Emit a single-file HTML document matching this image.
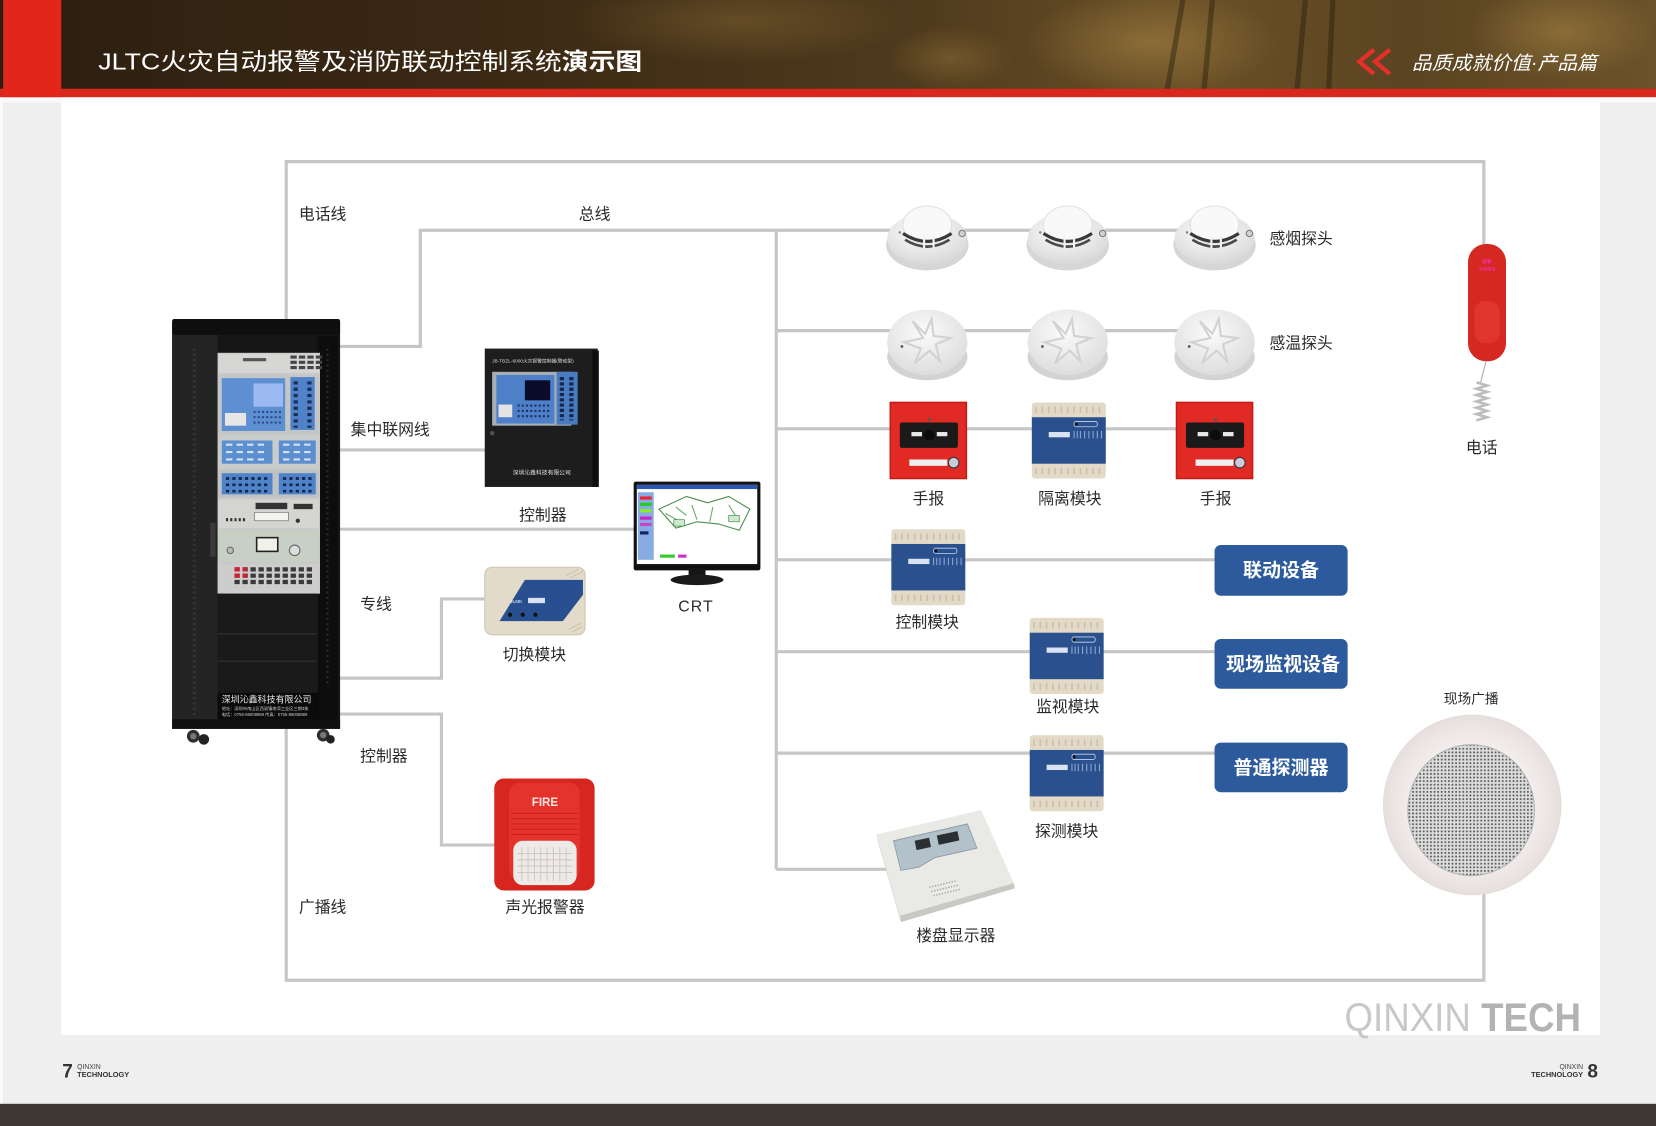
<!DOCTYPE html>
<html><head><meta charset="utf-8">
<style>
html,body{margin:0;padding:0;background:#f0f0f0;overflow:hidden;}
svg{display:block;}
text{font-family:"Liberation Sans","Noto Sans CJK SC",sans-serif;}
.lb{font-size:15px;fill:#2a2a2a;}
.bt{font-size:18px;fill:#fff;font-weight:bold;}
.ln{stroke:#c6c6c6;stroke-width:3;fill:none;}
</style></head>
<body>
<svg width="1656" height="1126" viewBox="0 0 1568 1066" preserveAspectRatio="none" xmlns="http://www.w3.org/2000/svg">
<defs>
  <linearGradient id="hdr" x1="0" y1="0" x2="1" y2="0">
    <stop offset="0" stop-color="#2c1f10"/>
    <stop offset="0.3" stop-color="#3b2914"/>
    <stop offset="0.55" stop-color="#4e3a1c"/>
    <stop offset="0.72" stop-color="#6a5027"/>
    <stop offset="0.85" stop-color="#5a4421"/>
    <stop offset="1" stop-color="#6b5229"/>
  </linearGradient>
  <radialGradient id="hdrspot" cx="0.5" cy="0.5" r="0.5">
    <stop offset="0" stop-color="#9a7a3e" stop-opacity="0.7"/>
    <stop offset="1" stop-color="#9a7a3e" stop-opacity="0"/>
  </radialGradient>
  <radialGradient id="smk" cx="0.45" cy="0.35" r="0.65">
    <stop offset="0" stop-color="#ffffff"/>
    <stop offset="1" stop-color="#d9d9d9"/>
  </radialGradient>
  <radialGradient id="heat" cx="0.45" cy="0.35" r="0.65">
    <stop offset="0" stop-color="#fbfbfb"/>
    <stop offset="1" stop-color="#dddddd"/>
  </radialGradient>
  <radialGradient id="spk" cx="0.5" cy="0.5" r="0.5">
    <stop offset="0.6" stop-color="#f6f2f1"/>
    <stop offset="1" stop-color="#e6dfdd"/>
  </radialGradient>
  <pattern id="mesh" width="3.4" height="3.4" patternUnits="userSpaceOnUse">
    <rect width="3.4" height="3.4" fill="#dcdcdc"/>
    <circle cx="1.7" cy="1.7" r="0.95" fill="#5e5e5e"/>
  </pattern>
  <g id="smoke">
    <ellipse cx="0" cy="8" rx="39" ry="24" fill="#d6d6d6"/>
    <ellipse cx="0" cy="2" rx="38" ry="24" fill="url(#smk)"/>
    <ellipse cx="0" cy="-11" rx="23" ry="18" fill="#f9f9f9" stroke="#e0e0e0"/>
    <path d="M-23,-3 Q0,12 23,-3" stroke="#3a3a3a" stroke-width="3" fill="none"/>
    <path d="M-21,3 Q0,16 21,3" stroke="#4a4a4a" stroke-width="2.5" fill="none"/>
    <path d="M-3,-1 V12 M6,-1 V11" stroke="#f3f3f3" stroke-width="2"/>
    <circle cx="33" cy="-3" r="3" fill="#d2d2d2" stroke="#7a7a7a" stroke-width="1"/>
    <circle cx="-26" cy="-4" r="1.2" fill="#888"/>
  </g>
  <g id="heatd">
    <ellipse cx="0" cy="12" rx="38" ry="22" fill="#d3d3d3"/>
    <ellipse cx="0" cy="-2" rx="38" ry="31" fill="url(#heat)"/>
    <path d="M-14,-22 L-4,-6 L-22,-2 L-6,4 L-12,18 L2,6 L12,16 L8,0 L22,-6 L6,-8 L4,-24 L-2,-10 Z" fill="none" stroke="#d2d2d2" stroke-width="2"/>
    <circle cx="-24" cy="2" r="1.3" fill="#555"/>
  </g>
  <g id="manual">
    <rect x="0" y="0" width="72" height="72" fill="#e12a24"/>
    <rect x="0" y="0" width="72" height="72" fill="none" stroke="#c01e19" stroke-width="1.5"/>
    <rect x="9" y="19" width="55" height="24" rx="2" fill="#1a1a1a"/>
    <rect x="20" y="28" width="10" height="4" fill="#e8e8e8"/>
    <rect x="44" y="28" width="10" height="4" fill="#e8e8e8"/>
    <circle cx="37" cy="31" r="5" fill="#0c0c0c"/>
    <circle cx="37" cy="16" r="1.5" fill="#555"/>
    <rect x="18" y="54" width="36" height="6" fill="#f0f0f0"/>
    <circle cx="60" cy="57" r="5" fill="#c9ccd8" stroke="#334" stroke-width="1"/>
  </g>
  <g id="module">
    <rect x="0" y="0" width="70" height="72" rx="3" fill="#e2d9c7"/>
    <path d="M4,4 V10 M10,4 V10 M16,4 V10 M22,4 V10 M28,4 V10 M34,4 V10 M40,4 V10 M46,4 V10 M52,4 V10 M58,4 V10 M64,4 V10 M4,62 V68 M10,62 V68 M16,62 V68 M22,62 V68 M28,62 V68 M34,62 V68 M40,62 V68 M46,62 V68 M52,62 V68 M58,62 V68 M64,62 V68" stroke="#cbbfa8" stroke-width="1.5"/>
    <rect x="0" y="14" width="70" height="44" fill="#2a508e"/>
    <rect x="16" y="28" width="20" height="5" fill="#d9e3f2"/>
    <path d="M40,27 V34 M43,27 V34 M46,27 V34 M50,27 V34 M54,27 V34 M58,27 V34 M62,27 V34 M66,27 V34" stroke="#8fa8d0" stroke-width="1"/>
    <rect x="40" y="18" width="22" height="5" rx="2" fill="none" stroke="#c8d4e8" stroke-width="0.8"/>
    <circle cx="42" cy="20.5" r="1.5" fill="#111"/>
  </g>
</defs>

<!-- page background -->
<rect x="0" y="0" width="1568" height="1066" fill="#efefef"/>
<rect x="0" y="0" width="3" height="1066" fill="#fafafa"/>
<rect x="58" y="95" width="1457" height="885" fill="#ffffff"/>
<rect x="0" y="92" width="1568" height="5" fill="#fbfbfb"/>

<!-- header -->
<rect x="0" y="0" width="1568" height="86" fill="url(#hdr)"/>
<ellipse cx="1090" cy="40" rx="120" ry="50" fill="url(#hdrspot)"/>
<ellipse cx="1480" cy="30" rx="90" ry="45" fill="url(#hdrspot)"/>
<ellipse cx="700" cy="20" rx="160" ry="40" fill="url(#hdrspot)" opacity="0.5"/>
<ellipse cx="900" cy="55" rx="60" ry="30" fill="url(#hdrspot)" opacity="0.6"/>
<path d="M1120,0 L1105,86 M1148,0 L1140,86 M1236,0 L1228,86 M1262,0 L1258,86" stroke="#2a1e0e" stroke-width="5" opacity="0.45"/>
<rect x="0" y="84" width="1568" height="8" fill="#d8281e"/>
<rect x="3" y="0" width="55" height="92" fill="#e2261c"/>
<text x="93" y="66" font-size="22" fill="#ffffff" textLength="515" lengthAdjust="spacingAndGlyphs">JLTC火灾自动报警及消防联动控制系统<tspan font-weight="bold">演示图</tspan></text>
<polyline points="1301,47 1287,58.5 1301,70" fill="none" stroke="#e5302a" stroke-width="4"/>
<polyline points="1316,47 1302,58.5 1316,70" fill="none" stroke="#e5302a" stroke-width="4"/>
<text x="1337" y="66" font-size="18" fill="#ffffff" font-style="italic" textLength="175" lengthAdjust="spacingAndGlyphs">品质成就价值·产品篇</text>

<!-- connector lines -->
<path class="ln" d="M271,690 V928 H1405 V845"/>
<path class="ln" d="M271,305 V153 H1405 V235"/>
<path class="ln" d="M322,328 H398 V218 H1120"/>
<path class="ln" d="M735,218 V823"/>
<path class="ln" d="M735,313 H1120"/>
<path class="ln" d="M735,406 H1150"/>
<path class="ln" d="M735,530 H1150"/>
<path class="ln" d="M735,617 H1150"/>
<path class="ln" d="M735,713 H1150"/>
<path class="ln" d="M735,823 H850"/>
<path class="ln" d="M322,426 H460"/>
<path class="ln" d="M322,501 H602"/>
<path class="ln" d="M322,642 H418 V567 H462"/>
<path class="ln" d="M322,676 H418 V800 H470"/>

<!-- cabinet -->
<g>
  <rect x="163" y="305" width="159" height="385" fill="#161616"/>
  <rect x="163" y="316" width="43" height="372" fill="#242424"/>
  <path d="M184,330 V680" stroke="#333" stroke-width="3" stroke-dasharray="2 3"/>
  <rect x="163" y="302" width="159" height="15" rx="2" fill="#0f0f0f"/>
  <rect x="199" y="495" width="5" height="32" fill="#3a3a3a"/>
  <rect x="300" y="318" width="20" height="370" fill="#0d0d0d"/>
  <path d="M310,330 V650" stroke="#2a2a2a" stroke-width="2" stroke-dasharray="2 3"/>
  <rect x="206" y="334" width="97" height="228" fill="#c8cac8"/>
  <rect x="207" y="335" width="95" height="18" fill="#d6d7d4"/>
  <rect x="230" y="339" width="22" height="3" fill="#555"/>
  <path d="M275,338 h6 m2,0 h6 m2,0 h6 m2,0 h6 M275,343 h6 m2,0 h6 m2,0 h6 m2,0 h6 M275,348 h6 m2,0 h6 m2,0 h6 m2,0 h6" stroke="#444" stroke-width="3"/>
  <rect x="207" y="355" width="95" height="56" fill="#c2c6c7"/>
  <rect x="210" y="358" width="60" height="50" fill="#5d8fd2"/>
  <rect x="240" y="363" width="28" height="22" fill="#9bb9f2"/>
  <rect x="213" y="391" width="20" height="12" fill="#e6e6e6"/>
  <path d="M240,390 h28 M240,395 h28 M240,400 h28" stroke="#2d4f8a" stroke-width="2" stroke-dasharray="2 2"/>
  <rect x="275" y="357" width="23" height="50" fill="#4f82c8"/>
  <path d="M280,361 V405 M293,361 V405" stroke="#1d2e55" stroke-width="4" stroke-dasharray="3 3"/>
  <rect x="207" y="413" width="95" height="30" fill="#cacccc"/>
  <rect x="210" y="417" width="48" height="22" fill="#5c8fd0"/>
  <rect x="264" y="417" width="35" height="22" fill="#5c8fd0"/>
  <path d="M214,421 h40 M214,428 h40 M214,435 h40 M268,421 h28 M268,428 h28 M268,435 h28" stroke="#d6e2f5" stroke-width="2" stroke-dasharray="6 4"/>
  <rect x="207" y="445" width="95" height="26" fill="#bfc2c4"/>
  <rect x="210" y="448" width="48" height="20" fill="#4f83c9"/>
  <rect x="264" y="448" width="35" height="20" fill="#4f83c9"/>
  <path d="M214,453 h40 M214,459 h40 M214,465 h40 M268,453 h28 M268,459 h28 M268,465 h28" stroke="#15254a" stroke-width="2.5" stroke-dasharray="3 3"/>
  <rect x="207" y="473" width="95" height="27" fill="#d4d4d0"/>
  <rect x="242" y="476" width="30" height="6" fill="#333"/>
  <rect x="241" y="485" width="32" height="8" fill="#f3f3f0" stroke="#666" stroke-width="0.6"/>
  <path d="M214,492 h20" stroke="#333" stroke-width="3" stroke-dasharray="2 2"/>
  <rect x="278" y="477" width="18" height="5" fill="#333"/>
  <circle cx="282" cy="493" r="2" fill="#333"/>
  <rect x="207" y="502" width="95" height="30" fill="#c8cfc5"/>
  <rect x="243" y="509" width="20" height="13" fill="#f2f2ea" stroke="#222" stroke-width="1.5"/>
  <circle cx="279" cy="521" r="5" fill="#ddd" stroke="#666"/>
  <circle cx="218" cy="521" r="3" fill="#bbb" stroke="#666"/>
  <rect x="207" y="534" width="95" height="28" fill="#cccdcc"/>
  <path d="M222,539 h76 M222,545 h76 M222,551 h76" stroke="#3a3a3a" stroke-width="4" stroke-dasharray="5 2.6"/>
  <path d="M222,539 h12 M222,545 h12" stroke="#c23" stroke-width="4" stroke-dasharray="5 2.6"/>
  <rect x="206" y="562" width="95" height="94" fill="#1a1a1a"/>
  <path d="M206,600 H300 M206,626 H300" stroke="#2c2c2c" stroke-width="1.5"/>
  <rect x="206" y="656" width="95" height="25" fill="#0b0b0b"/>
  <text x="210" y="665" font-size="8.5" fill="#e8e8e8">深圳沁鑫科技有限公司</text>
  <text x="210" y="672" font-size="4" fill="#ccc">地址：深圳市南山区西丽镇南湾工业区三期3栋</text>
  <text x="210" y="678" font-size="4" fill="#ccc">电话：0755-86008888 传真：0755-86008889</text>
  <rect x="163" y="681" width="159" height="9" fill="#101010"/>
  <circle cx="183" cy="697" r="6" fill="#2e2e2e"/><circle cx="183" cy="697" r="3" fill="#777"/>
  <circle cx="193" cy="700" r="5" fill="#222"/>
  <circle cx="306" cy="696" r="6" fill="#2e2e2e"/><circle cx="306" cy="696" r="3" fill="#777"/>
  <circle cx="313" cy="700" r="4" fill="#222"/>
</g>

<!-- controller -->
<g>
  <rect x="459" y="330" width="107" height="131" fill="#1d1d1d"/>
  <rect x="561" y="332" width="6" height="129" fill="#0e0e0e"/>
  <text x="466" y="343" font-size="4.5" fill="#ddd">JB-TBZL-6000火灾报警控制器(联动型)</text>
  <rect x="466" y="352" width="75" height="51" fill="#a7afb6"/>
  <rect x="470" y="355" width="55" height="46" fill="#4d80c9"/>
  <rect x="497" y="360" width="24" height="19" fill="#0b0b2a"/>
  <rect x="472" y="383" width="13" height="12" fill="#e3e3e3"/>
  <path d="M490,384 h32 M490,389 h32 M490,394 h32" stroke="#1c3566" stroke-width="2" stroke-dasharray="2 2"/>
  <rect x="527" y="352" width="20" height="50" fill="#4a7bc0"/>
  <path d="M532,357 V398 M541,357 V398" stroke="#16264a" stroke-width="4" stroke-dasharray="3 2"/>
  <circle cx="466" cy="410" r="2" fill="#555"/>
  <text x="513" y="449" font-size="5.5" fill="#e6e6e6" text-anchor="middle">深圳沁鑫科技有限公司</text>
</g>

<!-- CRT -->
<g>
  <rect x="600" y="456" width="120" height="84" rx="2" fill="#121212"/>
  <rect x="603" y="459" width="114" height="75" fill="#ffffff"/>
  <rect x="603" y="459" width="114" height="4" fill="#2b58b0"/>
  <rect x="604" y="466" width="15" height="64" fill="#86ace3"/>
  <rect x="606" y="470" width="11" height="3" fill="#e23"/>
  <rect x="606" y="476" width="11" height="3" fill="#2c2"/>
  <rect x="606" y="482" width="11" height="3" fill="#8e2"/>
  <rect x="606" y="489" width="11" height="3" fill="#c2c"/>
  <rect x="606" y="495" width="11" height="3" fill="#c4c"/>
  <rect x="606" y="503" width="8" height="3" fill="#126"/>
  <path d="M624,482 L650,470 L670,476 L690,470 L710,482 L700,502 L680,496 L660,494 L640,500 Z" fill="none" stroke="#4b8b4b" stroke-width="1"/>
  <path d="M630,486 L648,496 M655,478 L660,492 M675,480 L672,494 M690,478 L700,494 M640,480 L650,488" stroke="#6a6" stroke-width="1"/>
  <path d="M638,492 h10 v6 h-10 z M690,488 h10 v6 h-10 z" fill="#cfe8cf" stroke="#383" stroke-width="0.6"/>
  <rect x="625" y="525" width="14" height="3" fill="#3c3"/>
  <rect x="642" y="525" width="8" height="3" fill="#c3c"/>
  <rect x="652" y="538" width="16" height="9" fill="#151515"/>
  <ellipse cx="660" cy="549" rx="25" ry="5" fill="#1a1a1a"/>
</g>

<!-- switch module -->
<g>
  <rect x="459" y="537" width="95" height="64" rx="7" fill="#e3dbc9" stroke="#cfc5b0" stroke-width="1"/>
  <polygon points="473,588 497,549 552,549 552,563 533,588" fill="#284f8f"/>
  <rect x="500" y="566" width="16" height="5" fill="#d9e3f2"/>
  <text x="483" y="571" font-size="4.5" fill="#fff">JLMK</text>
  <circle cx="483" cy="582" r="2" fill="#111"/><circle cx="495" cy="582" r="2" fill="#111"/><circle cx="507" cy="582" r="2" fill="#111"/>
  <path d="M536,545 l12,-6 M540,547 l12,-6 M538,596 l12,-6 M542,598 l10,-5" stroke="#cdbfa4" stroke-width="1"/>
</g>

<!-- sound & light alarm -->
<g>
  <rect x="468" y="737" width="95" height="106" rx="9" fill="#d72520"/>
  <rect x="482" y="741" width="67" height="92" rx="10" fill="#e4332b"/>
  <path d="M484,770 h63 M484,775 h63 M484,780 h63 M484,785 h63 M484,790 h63" stroke="#c9221d" stroke-width="1"/>
  <text x="516" y="763" font-size="11" font-weight="bold" fill="#f4e7e4" text-anchor="middle">FIRE</text>
  <rect x="486" y="796" width="60" height="42" rx="9" fill="#eeeae8"/>
  <path d="M494,802 V834 M500,802 V834 M506,802 V834 M512,802 V834 M518,802 V834 M524,802 V834 M530,802 V834 M536,802 V834 M490,808 h52 M490,814 h52 M490,820 h52 M490,826 h52" stroke="#cfc8c6" stroke-width="1"/>
</g>

<!-- smoke detectors -->
<use href="#smoke" x="878" y="224"/>
<use href="#smoke" x="1011" y="224"/>
<use href="#smoke" x="1150" y="224"/>
<!-- heat detectors -->
<use href="#heatd" x="878" y="326"/>
<use href="#heatd" x="1011" y="326"/>
<use href="#heatd" x="1150" y="326"/>
<!-- manual alarms & isolation -->
<use href="#manual" x="843" y="381"/>
<use href="#module" x="977" y="381"/>
<use href="#manual" x="1114" y="381"/>
<!-- modules -->
<use href="#module" x="844" y="501"/>
<use href="#module" x="975" y="585"/>
<use href="#module" x="975" y="696"/>

<!-- floor display -->
<g>
  <polygon points="830,790 929,767 960,836 852,867" fill="#e9e9e5"/>
  <polygon points="852,867 960,836 961,841 853,873" fill="#c9c9c4"/>
  <polygon points="830,790 852,867 853,873 831,796" fill="#d6d6d1"/>
  <polygon points="846,796 916,780 925,803 885,812 870,821 853,824" fill="#b3c1ca" stroke="#8d9aa3" stroke-width="0.8"/>
  <rect x="866" y="796" width="14" height="9" fill="#2a2f33" transform="rotate(-12 866 796)"/>
  <rect x="887" y="791" width="20" height="9" fill="#2a2f33" transform="rotate(-12 887 791)"/>
  <path d="M880,840 l25,-6 M882,844 l25,-6 M884,848 l25,-6" stroke="#999" stroke-width="1.2" stroke-dasharray="1.2 1.5"/>
</g>

<!-- blue buttons -->
<rect x="1150" y="516" width="126" height="48" rx="6" fill="#2c5a9c"/>
<rect x="1150" y="605" width="126" height="47" rx="6" fill="#2c5a9c"/>
<rect x="1150" y="703" width="126" height="47" rx="6" fill="#2c5a9c"/>
<text class="bt" x="1213" y="546" text-anchor="middle">联动设备</text>
<text class="bt" x="1215" y="635" text-anchor="middle">现场监视设备</text>
<text class="bt" x="1213" y="733" text-anchor="middle">普通探测器</text>

<!-- phone -->
<g>
  <rect x="1390" y="231" width="36" height="111" rx="17" fill="#d52820"/>
  <rect x="1396" y="285" width="24" height="40" rx="10" fill="#e0352c"/>
  <text x="1408" y="249" font-size="4.5" fill="#f3d" text-anchor="middle">报警</text>
  <text x="1408" y="256" font-size="4" fill="#f3d" text-anchor="middle">专用电话</text>
  <path d="M1407,342 L1402,362" stroke="#aaa" stroke-width="1"/>
  <path d="M1398,362 l10,3 l-10,3 l10,3 l-10,3 l10,3 l-10,3 l10,3 l-10,3 l10,3 l-10,3 l10,3 l-10,3" stroke="#bdbdbd" stroke-width="2.5" fill="none"/>
</g>

<!-- speaker -->
<ellipse cx="1394" cy="762" rx="84" ry="85" fill="url(#spk)" stroke="#e2dcda" stroke-width="1"/>
<ellipse cx="1393" cy="767" rx="60" ry="62" fill="url(#mesh)" stroke="#b5b5b5" stroke-width="1"/>

<!-- labels -->
<text class="lb" x="283" y="208">电话线</text>
<text class="lb" x="548" y="208">总线</text>
<text class="lb" x="332" y="412">集中联网线</text>
<text class="lb" x="341" y="577">专线</text>
<text class="lb" x="341" y="721">控制器</text>
<text class="lb" x="283" y="864">广播线</text>
<text class="lb" x="514" y="493" text-anchor="middle">控制器</text>
<text class="lb" x="659" y="579" text-anchor="middle" letter-spacing="1">CRT</text>
<text class="lb" x="506" y="625" text-anchor="middle">切换模块</text>
<text class="lb" x="516" y="864" text-anchor="middle">声光报警器</text>
<text class="lb" x="1202" y="231">感烟探头</text>
<text class="lb" x="1202" y="330">感温探头</text>
<text class="lb" x="879" y="477" text-anchor="middle">手报</text>
<text class="lb" x="1013" y="477" text-anchor="middle">隔离模块</text>
<text class="lb" x="1151" y="477" text-anchor="middle">手报</text>
<text class="lb" x="878" y="594" text-anchor="middle">控制模块</text>
<text class="lb" x="1011" y="674" text-anchor="middle">监视模块</text>
<text class="lb" x="1010" y="792" text-anchor="middle">探测模块</text>
<text class="lb" x="905" y="891" text-anchor="middle">楼盘显示器</text>
<text class="lb" x="1403" y="429" text-anchor="middle">电话</text>
<text x="1393" y="666" font-size="13" fill="#2a2a2a" text-anchor="middle">现场广播</text>

<!-- brand -->
<text x="1273" y="976" font-size="38" textLength="224" lengthAdjust="spacingAndGlyphs"><tspan fill="#c8c8c8">QINXIN </tspan><tspan fill="#b3b3b3" font-weight="bold">TECH</tspan></text>

<!-- footer -->
<text x="59" y="1020" font-size="18" font-weight="bold" fill="#333">7</text>
<text x="73" y="1012" font-size="6.5" fill="#444">QINXIN</text>
<text x="73" y="1019.5" font-size="7" font-weight="bold" fill="#333">TECHNOLOGY</text>
<text x="1499" y="1012" font-size="6.5" fill="#444" text-anchor="end">QINXIN</text>
<text x="1499" y="1019.5" font-size="7" font-weight="bold" fill="#333" text-anchor="end">TECHNOLOGY</text>
<text x="1503" y="1020" font-size="18" font-weight="bold" fill="#333">8</text>
<rect x="0" y="1045" width="1568" height="21" fill="#3e3633"/>
</svg>
</body></html>
